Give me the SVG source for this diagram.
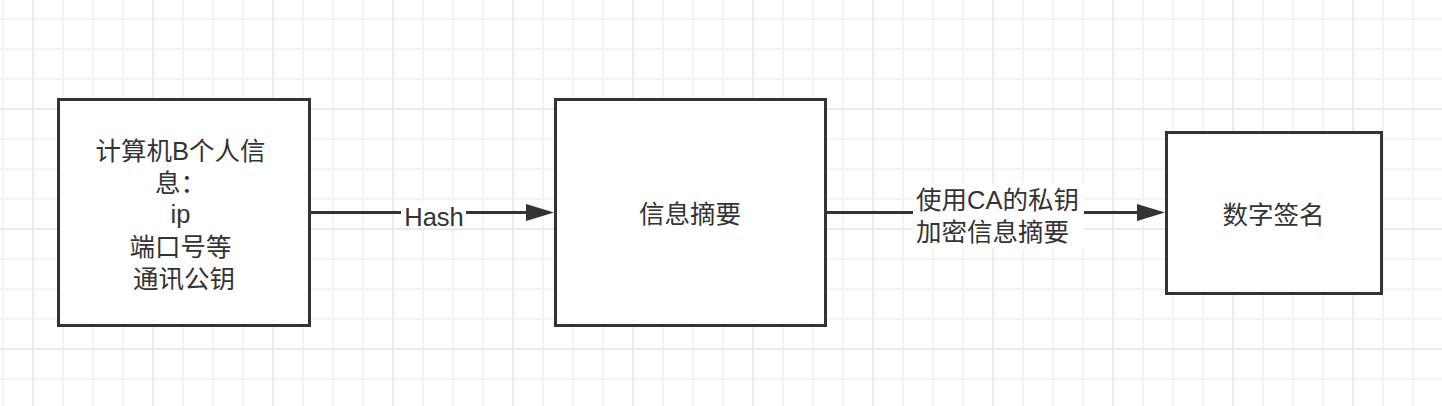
<svg xmlns="http://www.w3.org/2000/svg" width="1442" height="406" viewBox="0 0 1442 406">
  <style>
    .node { fill: #ffffff; stroke: #333333; stroke-width: 3; }
    .txt { font-family: "Liberation Sans", "Noto Sans CJK SC", sans-serif; font-size: 25.5px; fill: #333333; }
    .edge { fill: none; stroke: #333333; stroke-width: 3; }
    .lblbg { fill: #ffffff; }
  </style>
  <defs>
    <pattern id="minor" patternUnits="userSpaceOnUse" x="-12" y="4" width="30" height="30">
      <path d="M15 0V30M0 15H30" stroke="#f4f4f4" stroke-width="2" fill="none"/>
    </pattern>
    <pattern id="major" patternUnits="userSpaceOnUse" x="-27" y="49" width="120" height="120">
      <path d="M60 0V120M0 60H120" stroke="#ebebeb" stroke-width="2" fill="none"/>
    </pattern>
    <marker id="arrow" markerUnits="userSpaceOnUse" markerWidth="28" markerHeight="18" refX="1" refY="8.5" orient="auto">
      <path d="M0,0 L28,8.5 L0,17 Z" fill="#333333"/>
    </marker>
  </defs>

  <rect width="1442" height="406" fill="#ffffff"/>
  <rect width="1442" height="406" fill="url(#minor)"/>
  <rect width="1442" height="406" fill="url(#major)"/>

  <g id="connectors">
    <g id="edge-hash">
      <path class="edge" d="M311,212.5 H527" marker-end="url(#arrow)"/>
      <rect class="lblbg" x="401" y="201" width="65" height="26"/>
      <text class="txt" x="434" y="225.5" text-anchor="middle">Hash</text>
    </g>
    <g id="edge-sign">
      <path class="edge" d="M827,212.5 H1138" marker-end="url(#arrow)"/>
      <rect class="lblbg" x="913" y="183" width="171" height="66"/>
      <text class="txt" x="916" y="208.5">使用CA的私钥</text>
      <text class="txt" x="916" y="241">加密信息摘要</text>
    </g>
  </g>

  <g id="node-info">
    <rect class="node" x="58.5" y="99.5" width="251" height="226"/>
    <text class="txt" text-anchor="middle">
      <tspan x="184" y="159.5">计算机B个人信</tspan>
      <tspan x="184" y="191.5">息：</tspan>
      <tspan x="184" y="223">ip</tspan>
      <tspan x="184" y="255.5">端口号等</tspan>
      <tspan x="184" y="287.5">通讯公钥</tspan>
    </text>
  </g>

  <g id="node-digest">
    <rect class="node" x="555.5" y="99.5" width="270" height="226"/>
    <text class="txt" x="690" y="223" text-anchor="middle">信息摘要</text>
  </g>

  <g id="node-signature">
    <rect class="node" x="1166.5" y="132.5" width="215" height="161"/>
    <text class="txt" x="1273.5" y="223.5" text-anchor="middle">数字签名</text>
  </g>
</svg>
